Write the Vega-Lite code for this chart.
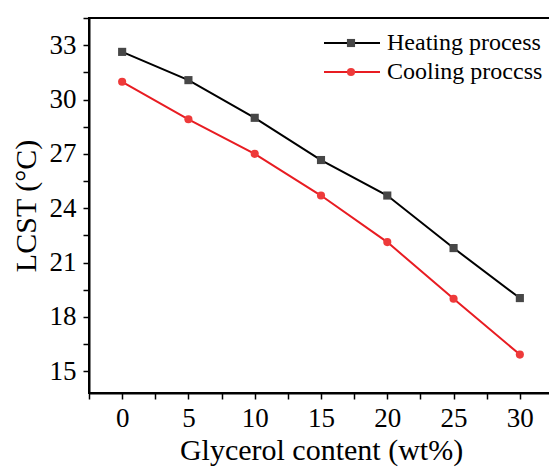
{
  "$schema": "https://vega.github.io/schema/vega-lite/v6.json",
  "width": 464,
  "height": 375,
  "autosize": {"type": "none"},
  "padding": {"left": 89, "top": 18, "right": 0, "bottom": 76},
  "background": "white",
  "config": {
    "view": {"stroke": "black", "strokeWidth": 2},
    "axis": {
      "domainColor": "black", "domainWidth": 2,
      "tickColor": "black", "tickWidth": 1.5, "tickSize": 6,
      "grid": false,
      "labelFont": "Liberation Serif", "labelFontSize": 27, "labelColor": "black",
      "titleFont": "Liberation Serif", "titleFontSize": 30, "titleFontWeight": "normal", "titleColor": "black",
      "labelOverlap": false, "labelFlush": false
    },
    "legend": {
      "labelFont": "Liberation Serif", "labelColor": "black",
      "padding": 0, "clipHeight": 24, "rowPadding": 5
    }
  },
  "data": {
    "values": [
      {"glycerol": 0, "lcst": 32.63, "series": "Heating process"},
      {"glycerol": 5, "lcst": 31.07, "series": "Heating process"},
      {"glycerol": 10, "lcst": 28.99, "series": "Heating process"},
      {"glycerol": 15, "lcst": 26.66, "series": "Heating process"},
      {"glycerol": 20, "lcst": 24.70, "series": "Heating process"},
      {"glycerol": 25, "lcst": 21.80, "series": "Heating process"},
      {"glycerol": 30, "lcst": 19.04, "series": "Heating process"},
      {"glycerol": 0, "lcst": 30.98, "series": "Cooling proccss"},
      {"glycerol": 5, "lcst": 28.91, "series": "Cooling proccss"},
      {"glycerol": 10, "lcst": 27.0, "series": "Cooling proccss"},
      {"glycerol": 15, "lcst": 24.70, "series": "Cooling proccss"},
      {"glycerol": 20, "lcst": 22.13, "series": "Cooling proccss"},
      {"glycerol": 25, "lcst": 19.0, "series": "Cooling proccss"},
      {"glycerol": 30, "lcst": 15.92, "series": "Cooling proccss"}
    ]
  },
  "encoding": {
    "x": {
      "field": "glycerol", "type": "quantitative",
      "scale": {"domain": [-2.5, 32.5], "nice": false, "zero": false},
      "axis": {
        "title": "Glycerol content (wt%)",
        "values": [-2.5, 0, 2.5, 5, 7.5, 10, 12.5, 15, 17.5, 20, 22.5, 25, 27.5, 30, 32.5],
        "labelExpr": "datum.value % 5 === 0 ? datum.label : ''",
        "labelPadding": 6,
        "titlePadding": 4,
        "encode": {"ticks": {"y2": {"value": {"expr": "datum.value % 5 === 0 ? 6 : 3.5"}}}}
      }
    },
    "y": {
      "field": "lcst", "type": "quantitative",
      "scale": {"domain": [13.8, 34.5], "nice": false, "zero": false},
      "axis": {
        "title": "LCST (°C)",
        "values": [15, 16.5, 18, 19.5, 21, 22.5, 24, 25.5, 27, 28.5, 30, 31.5, 33, 34.5],
        "labelExpr": "datum.value % 3 === 0 ? datum.label : ''",
        "labelPadding": 7,
        "titlePadding": 8,
        "encode": {"ticks": {"x2": {"value": {"expr": "datum.value % 3 === 0 ? -6 : -3.5"}}}}
      }
    }
  },
  "layer": [
    {
      "mark": {"type": "line", "strokeWidth": 2},
      "encoding": {
        "color": {
          "field": "series", "type": "nominal",
          "scale": {"domain": ["Heating process", "Cooling proccss", "none"], "range": ["#000000", "#e81c22", "#ffffff"]},
          "legend": {
            "title": null,
            "orient": "none",
            "legendX": 234,
            "legendY": 13,
            "values": ["Heating process", "Cooling proccss"],
            "symbolType": "stroke",
            "symbolSize": 3136,
            "symbolStrokeWidth": 2,
            "labelFontSize": 24,
            "labelOffset": 6
          }
        }
      }
    },
    {
      "mark": {"type": "point", "filled": true, "size": 66, "opacity": 1, "strokeWidth": 0},
      "encoding": {
        "shape": {
          "field": "series", "type": "nominal",
          "scale": {"domain": ["Heating process", "Cooling proccss"], "range": ["square", "circle"]},
          "legend": {
            "title": null,
            "orient": "top-right",
            "offset": 13,
            "symbolSize": 66,
            "symbolStrokeWidth": 0,
            "labelFontSize": 22,
            "labelExpr": "' '",
            "labelOffset": 178,
            "labelOpacity": 0
          }
        },
        "fill": {
          "field": "series", "type": "nominal",
          "scale": {"domain": ["Heating process", "Cooling proccss"], "range": ["#474747", "#ee3a3a"]},
          "legend": {
            "title": null,
            "orient": "top-right",
            "offset": 13,
            "symbolSize": 66,
            "symbolStrokeWidth": 0,
            "labelFontSize": 22,
            "labelExpr": "' '",
            "labelOffset": 178,
            "labelOpacity": 0
          }
        }
      }
    }
  ]
}
